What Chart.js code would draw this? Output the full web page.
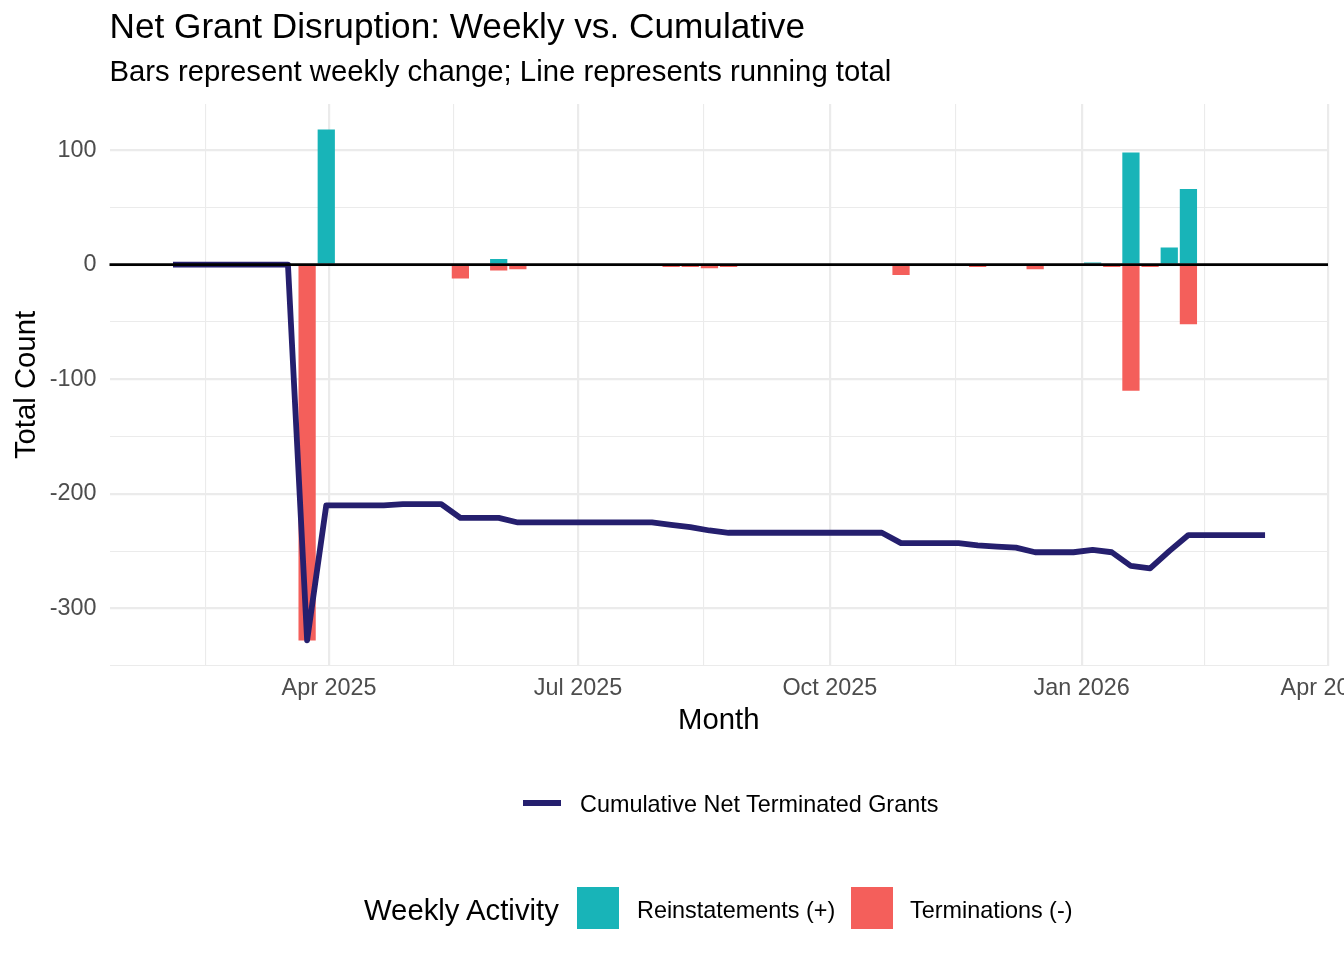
<!DOCTYPE html>
<html>
<head>
<meta charset="utf-8">
<title>Net Grant Disruption: Weekly vs. Cumulative</title>
<script src="https://cdn.jsdelivr.net/npm/chart.js@4.4.1/dist/chart.umd.min.js"></script>
<style>
  html, body { margin: 0; padding: 0; background: #fff; }
  #wrap {
    position: relative; width: 1344px; height: 960px; overflow: hidden;
    font-family: 'Liberation Sans', Arial, Helvetica, sans-serif; color: #000;
  }
  #chart { position: absolute; left: 0; top: 0; }
  .lg { position: absolute; white-space: nowrap; }
  .lg-text { font-size: 23.4px; height: 32px; line-height: 32px; }
  .lg-title { font-size: 29.3px; height: 36px; line-height: 36px; }
</style>
</head>
<body>
<div id="wrap">
  <canvas id="chart" width="1344" height="960"></canvas>

  <!-- line legend -->
  <div class="lg" id="lineKey" style="left:523px; top:800px; width:38px; height:6px;"></div>
  <div class="lg lg-text" id="lineLabel" style="left:580px; top:788px;"></div>

  <!-- bar legend -->
  <div class="lg lg-title" id="barTitle" style="left:364px; top:892px;"></div>
  <div class="lg" id="upKey" style="left:577px; top:887px; width:42px; height:42px;"></div>
  <div class="lg lg-text" id="upLabel" style="left:637px; top:894px;"></div>
  <div class="lg" id="downKey" style="left:851px; top:887px; width:42px; height:42px;"></div>
  <div class="lg lg-text" id="downLabel" style="left:910px; top:894px;"></div>
</div>

<script>
// ---------- Data ----------
const weeks = [
  '2025-02-03', '2025-02-10', '2025-02-17', '2025-02-24',
  '2025-03-03', '2025-03-10', '2025-03-17', '2025-03-24', '2025-03-31',
  '2025-04-07', '2025-04-14', '2025-04-21', '2025-04-28',
  '2025-05-05', '2025-05-12', '2025-05-19', '2025-05-26',
  '2025-06-02', '2025-06-09', '2025-06-16', '2025-06-23', '2025-06-30',
  '2025-07-07', '2025-07-14', '2025-07-21', '2025-07-28',
  '2025-08-04', '2025-08-11', '2025-08-18', '2025-08-25',
  '2025-09-01', '2025-09-08', '2025-09-15', '2025-09-22', '2025-09-29',
  '2025-10-06', '2025-10-13', '2025-10-20', '2025-10-27',
  '2025-11-03', '2025-11-10', '2025-11-17', '2025-11-24',
  '2025-12-01', '2025-12-08', '2025-12-15', '2025-12-22', '2025-12-29',
  '2026-01-05', '2026-01-12', '2026-01-19', '2026-01-26',
  '2026-02-02', '2026-02-09', '2026-02-16', '2026-02-23',
  '2026-03-02', '2026-03-09'
];

const reinstatements = [
  0, 0, 0, 0, 0, 0, 0, 0, 118, 0,
  0, 0, 1, 0, 0, 0, 0, 5, 0, 0,
  0, 0, 0, 0, 0, 0, 0, 0, 0, 0,
  0, 0, 0, 0, 0, 0, 0, 0, 0, 0,
  0, 0, 0, 0, 0, 0, 0, 0, 2, 0,
  98, 0, 15, 66, 0, 0, 0, 0
];

const terminations = [
  0, 0, 0, 0, 0, 0, 0, -328, 0, 0,
  0, 0, 0, 0, 0, -12, 0, -5, -4, 0,
  0, 0, 0, 0, 0, 0, -2, -2, -3, -2,
  0, 0, 0, 0, 0, 0, 0, 0, -9, 0,
  0, 0, -2, -1, -1, -4, 0, 0, 0, -2,
  -110, -2, 0, -52, 0, 0, 0, 0
];

const cumulativeNet = [
  0, 0, 0, 0, 0, 0, 0, -328, -210, -210,
  -210, -210, -209, -209, -209, -221, -221, -221, -225, -225,
  -225, -225, -225, -225, -225, -225, -227, -229, -232, -234,
  -234, -234, -234, -234, -234, -234, -234, -234, -243, -243,
  -243, -243, -245, -246, -247, -251, -251, -251, -249, -251,
  -263, -265, -250, -236, -236, -236, -236, -236
];

const xMajorTicks = ['2025-04-01', '2025-07-01', '2025-10-01', '2026-01-01', '2026-04-01'];
const xMajorLabels = ['Apr 2025', 'Jul 2025', 'Oct 2025', 'Jan 2026', 'Apr 2026'];
const xMinorTicks = ['2025-02-15', '2025-05-16T12:00:00Z', '2025-08-16', '2025-11-16', '2026-02-15'];
const yMajorTicks = [-300, -200, -100, 0, 100];
const yMinorTicks = [-350, -250, -150, -50, 50];

const seriesLine = 'Cumulative Net Terminated Grants';
const seriesUp = 'Reinstatements (+)';
const seriesDown = 'Terminations (-)';

// ---------- Style ----------
const COLOR_UP = '#18B4B8';
const COLOR_DOWN = '#F45F5B';
const COLOR_LINE = '#251F6E';
const GRID = '#EBEBEB';
const TICK = '#4D4D4D';
const DAY = 86400000;

Chart.defaults.font.family = "'Liberation Sans', Arial, Helvetica, sans-serif";
Chart.defaults.color = '#000';

const ms = s => Date.parse(s);
const xMajorMs = xMajorTicks.map(ms);
const xMinorMs = xMinorTicks.map(ms);

function isMajor(tick, list) {
  return tick && list.includes(tick.value);
}

// black reference line at zero, drawn over the marks
const zeroLine = {
  id: 'zeroLine',
  afterDatasetsDraw(chart) {
    const { ctx, chartArea, scales } = chart;
    const y = scales.y.getPixelForValue(0);
    ctx.save();
    ctx.strokeStyle = '#000';
    ctx.lineWidth = 2.8;
    ctx.beginPath();
    ctx.moveTo(chartArea.left, y);
    ctx.lineTo(chartArea.right, y);
    ctx.stroke();
    ctx.restore();
  }
};

// ---------- Chart ----------
const ctx = document.getElementById('chart').getContext('2d');

new Chart(ctx, {
  type: 'bar',
  data: {
    datasets: [
      {
        type: 'line',
        label: seriesLine,
        data: weeks.map((w, i) => ({ x: ms(w), y: cumulativeNet[i] })),
        borderColor: COLOR_LINE,
        borderWidth: 5.8,
        borderJoinStyle: 'round',
        borderCapStyle: 'butt',
        pointRadius: 0,
        tension: 0,
        fill: false,
        order: 0
      },
      {
        label: seriesUp,
        data: weeks.map((w, i) => ({ x: ms(w), y: reinstatements[i] || null })),
        backgroundColor: COLOR_UP,
        borderWidth: 0,
        grouped: false,
        barPercentage: 0.9,
        categoryPercentage: 1,
        order: 1
      },
      {
        label: seriesDown,
        data: weeks.map((w, i) => ({ x: ms(w), y: terminations[i] || null })),
        backgroundColor: COLOR_DOWN,
        borderWidth: 0,
        grouped: false,
        barPercentage: 0.9,
        categoryPercentage: 1,
        order: 2
      }
    ]
  },
  options: {
    responsive: false,
    animation: false,
    events: [],
    layout: { padding: { left: 0, right: 16, top: 0, bottom: 222 } },
    plugins: {
      legend: { display: false },
      tooltip: { enabled: false },
      title: {
        display: true,
        text: 'Net Grant Disruption: Weekly vs. Cumulative',
        align: 'start',
        fullSize: false,
        color: '#000',
        font: { size: 35.2, weight: 'normal', lineHeight: 1.2 },
        padding: { top: 7.3, bottom: 0 }
      },
      subtitle: {
        display: true,
        text: 'Bars represent weekly change; Line represents running total',
        align: 'start',
        fullSize: false,
        color: '#000',
        font: { size: 29.3, weight: 'normal', lineHeight: 1.2 },
        padding: { top: 5.4, bottom: 13.9 }
      }
    },
    scales: {
      x: {
        type: 'linear',
        min: ms('2025-04-01') - 80.2 * DAY,
        max: ms('2026-04-01'),
        bounds: 'data',
        offset: false,
        border: { display: false },
        grid: {
          offset: false,
          drawTicks: false,
          color: GRID,
          lineWidth: c => isMajor(c.tick, xMajorMs) ? 2.2 : 1.1
        },
        afterBuildTicks: axis => {
          axis.ticks = [...xMajorMs, ...xMinorMs].sort((a, b) => a - b).map(v => ({ value: v }));
        },
        ticks: {
          autoSkip: false,
          maxRotation: 0,
          minRotation: 0,
          padding: 9,
          color: TICK,
          font: { size: 23.4 },
          callback: v => {
            const i = xMajorMs.indexOf(v);
            return i >= 0 ? xMajorLabels[i] : '';
          }
        },
        title: {
          display: true,
          text: 'Month',
          color: '#000',
          font: { size: 29.3 },
          padding: { top: 0, bottom: 0 }
        },
        afterFit: axis => {
          axis.height = 72;
          axis.paddingLeft = 0;
          axis.paddingRight = 0;
        }
      },
      y: {
        type: 'linear',
        min: -350.3,
        max: 140.3,
        bounds: 'data',
        border: { display: false },
        grid: {
          drawTicks: false,
          color: GRID,
          lineWidth: c => isMajor(c.tick, yMajorTicks) ? 2.2 : 1.1
        },
        afterBuildTicks: axis => {
          axis.ticks = [...yMajorTicks, ...yMinorTicks].sort((a, b) => a - b).map(v => ({ value: v }));
        },
        ticks: {
          padding: 13,
          color: TICK,
          font: { size: 23.4 },
          callback: v => yMajorTicks.includes(v) ? String(v) : ''
        },
        title: {
          display: true,
          text: 'Total Count',
          color: '#000',
          font: { size: 29.3 },
          padding: { top: 9.5, bottom: 0 }
        },
        afterFit: axis => {
          axis.width = 109.5;
        }
      }
    }
  },
  plugins: [zeroLine]
});

// ---------- Legends ----------
document.getElementById('lineKey').style.background = COLOR_LINE;
document.getElementById('lineLabel').textContent = seriesLine;
document.getElementById('barTitle').textContent = 'Weekly Activity';
document.getElementById('upKey').style.background = COLOR_UP;
document.getElementById('upLabel').textContent = seriesUp;
document.getElementById('downKey').style.background = COLOR_DOWN;
document.getElementById('downLabel').textContent = seriesDown;
</script>
</body>
</html>
